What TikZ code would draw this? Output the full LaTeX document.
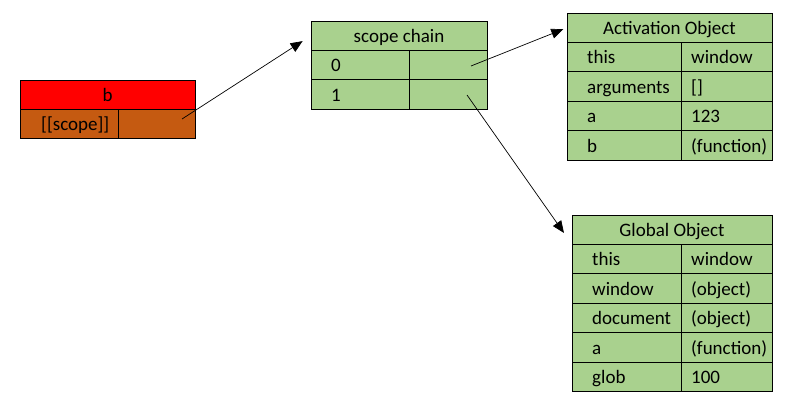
\documentclass[tikz,border=0pt]{standalone}
\usepackage{fontspec}
\setmainfont{Carlito}
\usetikzlibrary{positioning, arrows.meta, calc}

\definecolor{objgreen}{HTML}{A9D18E}
\definecolor{fnred}{HTML}{FF0000}
\definecolor{fnbrown}{HTML}{C55A11}

\tikzset{
  cell/.style={draw, rectangle, line width=0.8pt, minimum height=29.4pt, inner sep=0pt, outer sep=0pt,
    fill=objgreen, font=\fontsize{19}{21}\selectfont, text height=13.5pt, text depth=0pt},
  txt/.style={inner sep=0pt, font=\fontsize{19}{21}\selectfont, text height=13.5pt, text depth=0pt},
  link/.style={-{Triangle[length=12pt,width=10pt]}, line width=0.7pt},
}

\begin{document}
\begin{tikzpicture}[x=1pt, y=-1pt]
    \useasboundingbox (0,0) rectangle (799,403);

    % function b
    \node[cell, fill=fnred, minimum width=175pt, anchor=north west] (Bh) at (20,80) {b};
    \node[cell, fill=fnbrown, minimum width=98pt, below right=0pt of Bh.south west] (Bk) {};
    \node[cell, fill=fnbrown, minimum width=77pt, right=0pt of Bk] (Bv) {};
    \node[txt, right=21pt of Bk.west] (Bkt) {[[scope]]};

    % scope chain
    \node[cell, minimum width=176pt, anchor=north west] (Sh) at (311,21) {scope chain};
    \node[cell, minimum width=98pt, below right=0pt of Sh.south west] (S0k) {};
    \node[cell, minimum width=78pt, right=0pt of S0k] (S0v) {};
    \node[cell, minimum width=98pt, below=0pt of S0k] (S1k) {};
    \node[cell, minimum width=78pt, right=0pt of S1k] (S1v) {};
    \node[txt, right=20pt of S0k.west] (S0t) {0};
    \node[txt, right=20pt of S1k.west] (S1t) {1};

    % activation object
    \node[cell, minimum width=205pt, anchor=north west] (Ah) at (567,13) {Activation Object};
    \node[cell, minimum width=114pt, below right=0pt of Ah.south west] (A1k) {};
    \node[cell, minimum width=91pt, right=0pt of A1k] (A1v) {};
    \node[cell, minimum width=114pt, below=0pt of A1k] (A2k) {};
    \node[cell, minimum width=91pt, right=0pt of A2k] (A2v) {};
    \node[cell, minimum width=114pt, below=0pt of A2k] (A3k) {};
    \node[cell, minimum width=91pt, right=0pt of A3k] (A3v) {};
    \node[cell, minimum width=114pt, below=0pt of A3k] (A4k) {};
    \node[cell, minimum width=91pt, right=0pt of A4k] (A4v) {};
    \node[txt, right=20pt of A1k.west] (A1kt) {this};
    \node[txt, right=10pt of A1v.west] (A1vt) {window};
    \node[txt, right=20pt of A2k.west] (A2kt) {arguments};
    \node[txt, right=10pt of A2v.west] (A2vt) {[]};
    \node[txt, right=20pt of A3k.west] (A3kt) {a};
    \node[txt, right=10pt of A3v.west] (A3vt) {123};
    \node[txt, right=20pt of A4k.west] (A4kt) {b};
    \node[txt, right=10pt of A4v.west] (A4vt) {(function)};

    % global object
    \node[cell, minimum width=200pt, anchor=north west] (Gh) at (572,215) {Global Object};
    \node[cell, minimum width=109pt, below right=0pt of Gh.south west] (G1k) {};
    \node[cell, minimum width=91pt, right=0pt of G1k] (G1v) {};
    \node[cell, minimum width=109pt, below=0pt of G1k] (G2k) {};
    \node[cell, minimum width=91pt, right=0pt of G2k] (G2v) {};
    \node[cell, minimum width=109pt, below=0pt of G2k] (G3k) {};
    \node[cell, minimum width=91pt, right=0pt of G3k] (G3v) {};
    \node[cell, minimum width=109pt, below=0pt of G3k] (G4k) {};
    \node[cell, minimum width=91pt, right=0pt of G4k] (G4v) {};
    \node[cell, minimum width=109pt, below=0pt of G4k] (G5k) {};
    \node[cell, minimum width=91pt, right=0pt of G5k] (G5v) {};
    \node[txt, right=20pt of G1k.west] (G1kt) {this};
    \node[txt, right=10pt of G1v.west] (G1vt) {window};
    \node[txt, right=20pt of G2k.west] (G2kt) {window};
    \node[txt, right=10pt of G2v.west] (G2vt) {(object)};
    \node[txt, right=20pt of G3k.west] (G3kt) {document};
    \node[txt, right=10pt of G3v.west] (G3vt) {(object)};
    \node[txt, right=20pt of G4k.west] (G4kt) {a};
    \node[txt, right=10pt of G4v.west] (G4vt) {(function)};
    \node[txt, right=20pt of G5k.west] (G5kt) {glob};
    \node[txt, right=10pt of G5v.west] (G5vt) {100};

    % pointers
    \coordinate (Bp) at (182,119);
    \coordinate (S0p) at (471,66);
    \coordinate (S1p) at (467,95);
    \draw[link, shorten >=10pt] (Bp) -- (Sh.west);
    \draw[link, shorten >=4pt] (S0p) -- (Ah.west);
    \draw[link, shorten >=14pt] (S1p) -- (Gh.south west);
\end{tikzpicture}
\end{document}
